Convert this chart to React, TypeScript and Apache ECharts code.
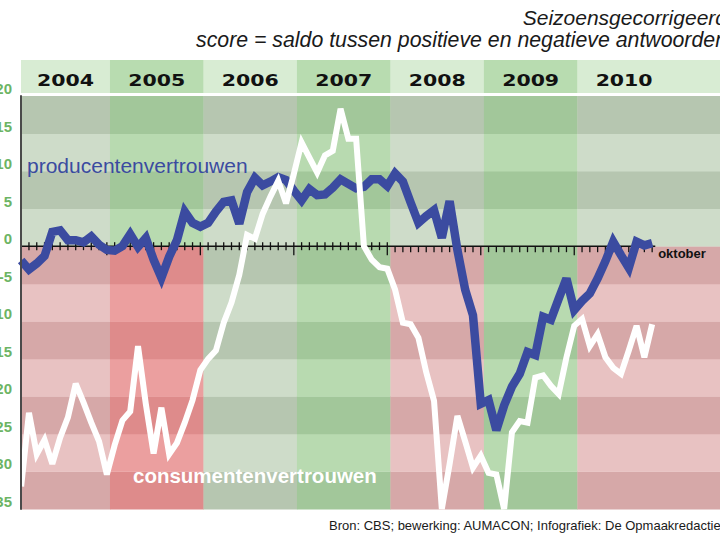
import { useEffect, useRef } from 'react';
import * as echarts from 'echarts';

// ---------- data ----------
const years = ['2004', '2005', '2006', '2007', '2008', '2009', '2010'];
// tone of the area below zero per year column
const belowZeroTone = ['red', 'red', 'green', 'green', 'red', 'green', 'red'];

// monthly, Jan 2004 .. Oct 2010
const producer = [
  -1.9, -3.1, -2.3, -1.3, 1.9, 2.1, 0.8, 0.8, 0.5, 1.3, 0.2, -0.5,
  -0.6, 0.0, 1.6, -0.1, 1.1, -1.8, -4.2, -1.4, 0.8, 4.6, 3.1, 2.6,
  3.1, 4.6, 5.9, 6.1, 3.0, 7.2, 9.1, 8.1, 8.6, 9.2, 8.8, 7.4,
  6.1, 7.6, 6.8, 6.9, 7.8, 8.9, 8.3, 7.7, 7.9, 8.9, 8.9, 8.0,
  9.7, 8.6, 5.8, 3.1, 4.0, 4.8, 1.1, 6.0, -0.5, -5.8, -9.2, -21.0,
  -20.5, -24.5, -21.2, -18.7, -17.0, -14.1, -14.5, -9.4, -9.8, -7.0, -4.3, -8.5,
  -7.3, -6.3, -4.3, -2.0, 0.6, -1.2, -2.9, 0.6, 0.1, 0.4,
];
const consumer = [
  -32.0, -22.2, -27.7, -25.8, -29.0, -25.5, -22.8, -18.3, -20.8, -23.5, -26.0, -30.4,
  -26.5, -23.2, -22.0, -13.3, -21.0, -27.6, -21.5, -27.7, -26.2, -23.5, -20.5, -16.5,
  -15.0, -13.9, -10.2, -7.5, -3.8, 1.5, 1.0, 4.3, 6.6, 8.7, 5.7, 9.6,
  13.8, 11.8, 9.8, 12.1, 12.7, 18.3, 14.3, 14.3, 0.0, -1.8, -2.8, -3.0,
  -5.8, -10.2, -10.4, -12.2, -16.8, -20.6, -35.0, -29.0, -22.6, -26.0, -29.5, -27.9,
  -30.2, -30.4, -35.0, -24.8, -23.3, -23.5, -17.5, -17.2, -18.6, -19.7, -14.8, -10.6,
  -9.7, -13.3, -11.7, -14.8, -16.2, -17.0, -13.9, -10.6, -14.8, -10.4,
];
const lastMonthLabel = 'oktober';
const producerLabel = 'producentenvertrouwen';
const consumerLabel = 'consumentenvertrouwen';
const title1 = 'Seizoensgecorrigeerd';
const title2 = 'score = saldo tussen positieve en negatieve antwoorden';
const sourceText = 'Bron: CBS; bewerking: AUMACON; Infografiek: De Opmaakredactie';

// ---------- layout / style ----------
const X_MIN = 0.578;
const X_MAX = 90.31;
const Y_MIN = -35;
const Y_MAX = 20;
const STEP = 5;
const OFFSET = 0.6; // month point position inside month
const FONT = '"Liberation Sans", Arial, Helvetica, sans-serif';
const BLUE = '#3b4ba0';

const PALETTE: Record<string, Record<string, Record<string, string>>> = {
  green: {
    grey: { dark: '#b6c6b0', light: '#cedcc9' },
    sat: { dark: '#a2c79a', light: '#b8dab0' },
  },
  red: {
    grey: { dark: '#d6a8a8', light: '#e8c2c2' },
    sat: { dark: '#de8b8b', light: '#eb9f9f' },
  },
};
const HEADER = { light: '#d8ecd3', sat: '#b8dcb0' };

const stripes: number[] = [];
for (let s = Y_MIN / STEP; s < Y_MAX / STEP; s++) stripes.push(s);

export default function App() {
  const ref = useRef<HTMLDivElement>(null);
  useEffect(() => {
    const chart = echarts.init(ref.current!, null, { renderer: 'svg' });
    const last = years.length - 1;
    const bgData: number[][] = [];
    years.forEach((_, k) => stripes.forEach((s) => bgData.push([k, s])));

    const option: any = {
      animation: false,
      grid: {
        left: 21,
        right: 0,
        top: 96,
        bottom: 31,
        containLabel: false,
        outerBoundsMode: 'none',
      },
      xAxis: { type: 'value', min: X_MIN, max: X_MAX, show: false },
      yAxis: {
        type: 'value',
        min: Y_MIN,
        max: Y_MAX,
        interval: STEP,
        z: 10,
        axisLine: { show: true, lineStyle: { color: '#4a4a4a', width: 2 } },
        axisTick: { show: false },
        splitLine: { show: false },
        axisLabel: {
          color: '#6cb464',
          fontWeight: 'bold',
          fontSize: 15,
          fontFamily: FONT,
          margin: 9,
          verticalAlign: 'bottom',
        },
      },
      series: [
        {
          type: 'custom',
          z: 0,
          silent: true,
          data: bgData,
          renderItem: (_p: any, api: any) => {
            const k = api.value(0);
            const s = api.value(1);
            const x0 = Math.max(k * 12, X_MIN);
            const x1 = k === last ? X_MAX : (k + 1) * 12;
            const a = api.coord([x0, (s + 1) * STEP]);
            const b = api.coord([x1, s * STEP]);
            const hue = s >= 0 ? 'green' : belowZeroTone[k];
            const shade = k % 2 === 1 ? 'sat' : 'grey';
            const band = Math.abs(s) % 2 === 1 ? 'dark' : 'light';
            return {
              type: 'rect',
              shape: { x: a[0], y: a[1], width: b[0] - a[0] + 0.4, height: b[1] - a[1] + 0.4 },
              style: { fill: PALETTE[hue][shade][band] },
            };
          },
        },
        {
          type: 'custom',
          z: 1,
          silent: true,
          data: years.map((_, k) => [k]),
          renderItem: (_p: any, api: any) => {
            const k = api.value(0);
            const x0 = Math.max(k * 12, X_MIN);
            const x1 = k === last ? X_MAX : (k + 1) * 12;
            const a = api.coord([x0, Y_MAX]);
            const b = api.coord([x1, Y_MAX]);
            const top = a[1];
            const cx = k === last ? api.coord([k * 12 + 6, Y_MAX])[0] : (a[0] + b[0]) / 2;
            return {
              type: 'group',
              children: [
                {
                  type: 'rect',
                  shape: { x: a[0], y: top - 36, width: b[0] - a[0] + 0.4, height: 33 },
                  style: { fill: k % 2 === 1 ? HEADER.sat : HEADER.light },
                },
                {
                  type: 'text',
                  x: cx,
                  y: top - 16,
                  scaleX: 1.28,
                  style: {
                    text: years[k],
                    align: 'center',
                    verticalAlign: 'middle',
                    fill: '#111',
                    font: 'bold 16px "DejaVu Sans", "Liberation Sans", Arial, sans-serif',
                  },
                },
              ],
            };
          },
        },
        {
          type: 'line',
          z: 3,
          silent: true,
          symbol: 'none',
          data: [
            [X_MIN, 0],
            [producer.length - 1 + OFFSET + 0.4, 0],
          ],
          lineStyle: { color: '#111', width: 1.5 },
        },
        {
          type: 'custom',
          z: 3,
          silent: true,
          data: producer.map((_, i) => [i + OFFSET, 0]),
          renderItem: (p: any, api: any) => {
            const i = p.dataIndex;
            const pt = api.coord([api.value(0), 0]);
            const yearEnd = (i + 1) % 12 === 0;
            const up = i < 48 ? 4 : 0;
            const down = yearEnd ? 9 : i < 48 ? 4 : 6;
            const children: any[] = [
              {
                type: 'line',
                shape: { x1: pt[0], y1: pt[1] - up, x2: pt[0], y2: pt[1] + down },
                style: { stroke: '#111', lineWidth: 1.3 },
              },
            ];
            if (i === producer.length - 1) {
              children.push({
                type: 'text',
                x: pt[0] + 6,
                y: pt[1] + 7,
                style: {
                  text: lastMonthLabel,
                  align: 'left',
                  verticalAlign: 'middle',
                  fill: '#111',
                  font: `bold 13px ${FONT}`,
                },
              });
            }
            return { type: 'group', children };
          },
        },
        {
          name: producerLabel,
          type: 'line',
          z: 4,
          symbol: 'none',
          data: producer.map((v, i) => [i + OFFSET, v]),
          lineStyle: { color: BLUE, width: 8.5, join: 'miter', miterLimit: 3 },
        },
        {
          name: consumerLabel,
          type: 'line',
          z: 5,
          symbol: 'none',
          data: consumer.map((v, i) => [i + OFFSET, v]),
          lineStyle: { color: '#ffffff', width: 6, join: 'miter', miterLimit: 3 },
        },
      ],
      graphic: [
        {
          type: 'text',
          x: 727,
          y: 17,
          z: 20,
          style: {
            text: title1,
            textAlign: 'right',
            align: 'right',
            textVerticalAlign: 'middle',
            verticalAlign: 'middle',
            fill: '#1a1a1a',
            font: `italic 21px ${FONT}`,
          },
        },
        {
          type: 'text',
          x: 727,
          y: 40,
          z: 20,
          style: {
            text: title2,
            textAlign: 'right',
            align: 'right',
            textVerticalAlign: 'middle',
            verticalAlign: 'middle',
            fill: '#1a1a1a',
            font: `italic 21.3px ${FONT}`,
          },
        },
        {
          type: 'text',
          x: 27,
          y: 165,
          z: 20,
          style: {
            text: producerLabel,
            textAlign: 'left',
            align: 'left',
            textVerticalAlign: 'middle',
            verticalAlign: 'middle',
            fill: BLUE,
            font: `21px ${FONT}`,
          },
        },
        {
          type: 'text',
          x: 133,
          y: 475,
          z: 20,
          style: {
            text: consumerLabel,
            textAlign: 'left',
            align: 'left',
            textVerticalAlign: 'middle',
            verticalAlign: 'middle',
            fill: '#ffffff',
            font: `bold 20.5px ${FONT}`,
          },
        },
        {
          type: 'text',
          x: 329,
          y: 525,
          z: 20,
          style: {
            text: sourceText,
            textAlign: 'left',
            align: 'left',
            textVerticalAlign: 'middle',
            verticalAlign: 'middle',
            fill: '#1a1a1a',
            font: `13px ${FONT}`,
          },
        },
      ],
    };
    chart.setOption(option);
    return () => chart.dispose();
  }, []);
  return (
    <div
      ref={ref}
      style={{ position: 'fixed', left: 0, top: 0, width: 720, height: 540, background: '#ffffff' }}
    />
  );
}
